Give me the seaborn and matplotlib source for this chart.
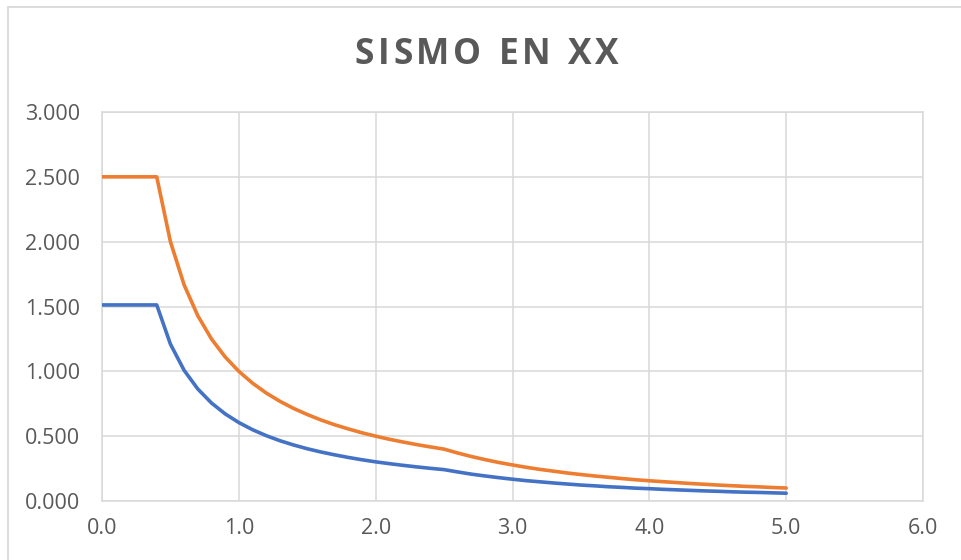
import matplotlib
matplotlib.use("Agg")
import matplotlib.pyplot as plt
from matplotlib.patches import Rectangle
import seaborn as sns
import pandas as pd

# Period T (s)
periodo = [0.0, 0.1, 0.2, 0.3, 0.4, 0.5, 0.6, 0.7, 0.8, 0.9,
           1.0, 1.1, 1.2, 1.3, 1.4, 1.5, 1.6, 1.7, 1.8, 1.9,
           2.0, 2.1, 2.2, 2.3, 2.4, 2.5, 2.6, 2.7, 2.8, 2.9,
           3.0, 3.1, 3.2, 3.3, 3.4, 3.5, 3.6, 3.7, 3.8, 3.9,
           4.0, 4.1, 4.2, 4.3, 4.4, 4.5, 4.6, 4.7, 4.8, 4.9, 5.0]

# Amplification factor C
factor_c = [2.500, 2.500, 2.500, 2.500, 2.500, 2.000, 1.667, 1.429, 1.250, 1.111,
            1.000, 0.909, 0.833, 0.769, 0.714, 0.667, 0.625, 0.588, 0.556, 0.526,
            0.500, 0.476, 0.455, 0.435, 0.417, 0.400, 0.370, 0.343, 0.319, 0.297,
            0.278, 0.260, 0.244, 0.230, 0.216, 0.204, 0.193, 0.183, 0.173, 0.164,
            0.156, 0.149, 0.142, 0.135, 0.129, 0.123, 0.118, 0.113, 0.109, 0.104, 0.100]

# Spectral acceleration Sa
sa = [1.512, 1.512, 1.512, 1.512, 1.512, 1.210, 1.008, 0.864, 0.756, 0.672,
      0.605, 0.550, 0.504, 0.465, 0.432, 0.403, 0.378, 0.356, 0.336, 0.318,
      0.302, 0.288, 0.275, 0.263, 0.252, 0.242, 0.224, 0.207, 0.193, 0.180,
      0.168, 0.157, 0.148, 0.139, 0.131, 0.123, 0.117, 0.110, 0.105, 0.099,
      0.095, 0.090, 0.086, 0.082, 0.078, 0.075, 0.071, 0.068, 0.066, 0.063, 0.060]

x_ticks = [0, 1, 2, 3, 4, 5, 6]
x_labels = ["0.0", "1.0", "2.0", "3.0", "4.0", "5.0", "6.0"]
y_ticks = [0.0, 0.5, 1.0, 1.5, 2.0, 2.5, 3.0]
y_labels = ["0.000", "0.500", "1.000", "1.500", "2.000", "2.500", "3.000"]

titulo = "SISMO EN XX"

sns.set_theme(style="white")
plt.rcParams["font.family"] = ["Open Sans", "DejaVu Sans"]

text_gray = "#595959"
grid_gray = "#D9D9D9"

fig = plt.figure(figsize=(9.61, 5.6), dpi=100)
ax = fig.add_axes([102 / 961, 1 - 501 / 560, (923 - 102) / 961, (501 - 112) / 560])

df = pd.DataFrame({"T": periodo, "C": factor_c, "Sa": sa})
sns.lineplot(data=df, x="T", y="C", ax=ax, color="#ED7D31", linewidth=2.6,
             sort=False, estimator=None, zorder=3)
sns.lineplot(data=df, x="T", y="Sa", ax=ax, color="#4472C4", linewidth=2.6,
             sort=False, estimator=None, zorder=4)

ax.set_xlim(0, 6)
ax.set_ylim(0, 3)
ax.set_xticks(x_ticks)
ax.set_xticklabels(x_labels)
ax.set_yticks(y_ticks)
ax.set_yticklabels(y_labels)
ax.set_xlabel("")
ax.set_ylabel("")

ax.grid(True, color=grid_gray, linewidth=1.1)
ax.set_axisbelow(True)
for side, sp in ax.spines.items():
    sp.set_visible(True)
    sp.set_color(grid_gray)
    sp.set_linewidth(1.1)

ax.tick_params(axis="both", length=0, labelsize=15.5, labelcolor=text_gray)
ax.tick_params(axis="x", pad=12)
ax.tick_params(axis="y", pad=16)

# Title drawn with letter tracking
renderer = fig.canvas.get_renderer()
title_kw = dict(fontsize=25.5, fontweight="bold", color=text_gray,
                ha="left", va="center")
tracking = 3.6  # px between glyphs
widths = []
for ch in titulo:
    t = fig.text(0, 0, ch if ch != " " else "I", **title_kw)
    w = t.get_window_extent(renderer).width
    if ch == " ":
        w *= 0.9
    widths.append(w)
    t.remove()
total = sum(widths) + tracking * (len(titulo) - 1)
x_px = 487 - total / 2
y_fig = 1 - 55 / 560
for ch, w in zip(titulo, widths):
    if ch != " ":
        fig.text(x_px / 961, y_fig, ch, **title_kw)
    x_px += w + tracking

# Outer chart frame
fig.patches.append(Rectangle((7.5 / 961, -0.05), 1.1, 1 - 6.5 / 560 + 0.05,
                             transform=fig.transFigure, fill=False,
                             edgecolor=grid_gray, linewidth=1.3))

fig.savefig("out.png", dpi=100, facecolor="white")
